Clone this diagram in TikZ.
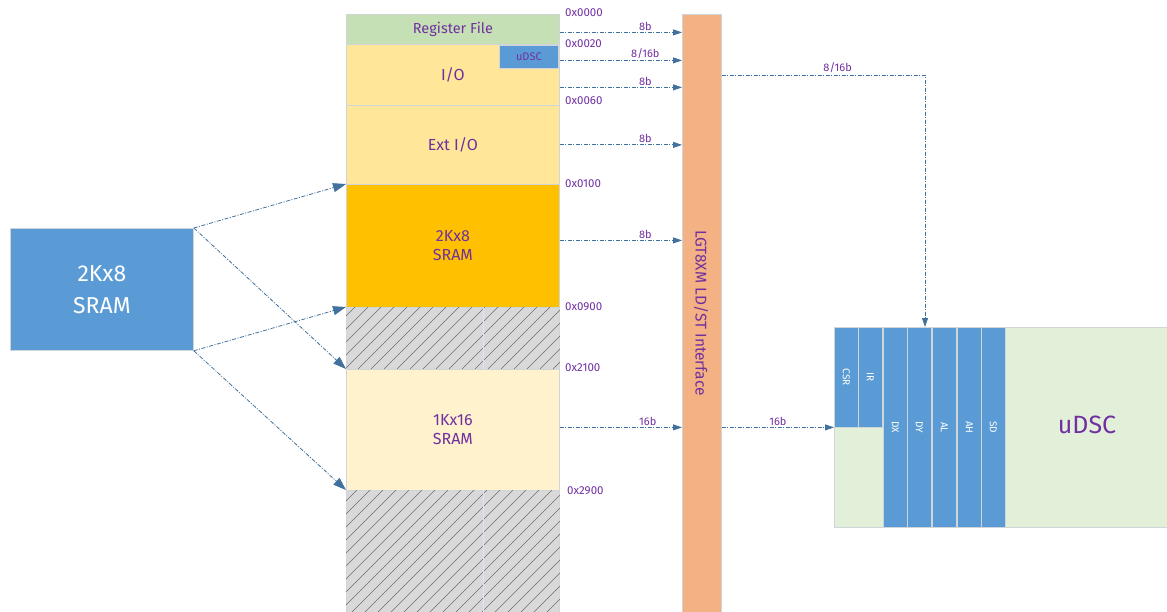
\documentclass[tikz,border=0pt]{standalone}
\usepackage{fontspec}
\setmainfont{Fira Sans}
\usepackage{graphicx}
\usetikzlibrary{arrows.meta}
\definecolor{purp}{HTML}{7030A0}
\definecolor{lnk}{HTML}{41719C}
\definecolor{regc}{HTML}{C5E0B4}
\definecolor{ioc}{HTML}{FFE699}
\definecolor{sramA}{HTML}{FFC000}
\definecolor{sramB}{HTML}{FFF2CC}
\definecolor{hatchc}{HTML}{D9D9D9}
\definecolor{blu}{HTML}{5B9BD5}
\definecolor{barc}{HTML}{F4B183}
\definecolor{udscg}{HTML}{E2F0D9}
\definecolor{edgec}{HTML}{D0D5DA}
\begin{document}
\begin{tikzpicture}[x=1pt,y=-1pt,
 blk/.style={draw=edgec, line width=0.8pt, anchor=north west, inner sep=0pt, text=purp, align=center},
 conn/.style={draw=lnk, line width=0.8pt, dash pattern=on 4pt off 1.5pt on 1pt off 1.5pt, -{Triangle[length=9pt,width=6pt]}},
 connL/.style={conn, -{Triangle[length=13pt,width=9pt]}},
 addr/.style={text=purp, font=\fontsize{11.5}{12}\selectfont, anchor=west, inner sep=0pt},
 bw/.style={text=purp, font=\fontsize{11}{12}\selectfont, above, inner sep=1.5pt},
 regbox/.style={draw=edgec, fill=blu, line width=0.8pt, anchor=north west, minimum width=24pt, inner sep=0pt, text=white, font=\fontsize{10}{11}\selectfont},
 hatchline/.style={draw=gray!85!black, line width=0.45pt}
]
\useasboundingbox (0,0) rectangle (1167,612);

% memory map
\node[blk, fill=regc, minimum width=213pt, minimum height=30pt, font=\fontsize{14.5}{16}\selectfont] (regf) at (346,14) {Register File};
\node[blk, fill=ioc, minimum width=213pt, minimum height=61pt, font=\fontsize{16}{17}\selectfont] (io) at (346,44) {I/O};
\node[blk, fill=blu, minimum width=59pt, minimum height=23pt, font=\fontsize{11}{12}\selectfont] (usm) at (499,45) {uDSC};
\node[blk, fill=ioc, minimum width=213pt, minimum height=79pt, font=\fontsize{16}{17}\selectfont] (ext) at (346,105) {Ext I/O};
\node[blk, fill=sramA, minimum width=213pt, minimum height=123pt, font=\fontsize{16}{19}\selectfont] (k2) at (346,184) {2Kx8\\SRAM};
\node[blk, fill=hatchc, minimum width=213pt, minimum height=62pt] (h1) at (346,307) {};
\node[blk, fill=sramB, minimum width=213pt, minimum height=121pt, font=\fontsize{16}{19}\selectfont] (k1) at (346,369) {1Kx16\\SRAM};
\node[blk, fill=hatchc, minimum width=213pt, minimum height=124pt] (h2) at (346,490) {};

\begin{scope}
\clip (h1.north west) rectangle (h1.south east);
\foreach \i in {280,293,...,560} \draw[hatchline] (\i,369) -- ++(62,-62);
\end{scope}
\begin{scope}
\clip (h2.north west) rectangle (h2.south east);
\foreach \i in {220,233,...,560} \draw[hatchline] (\i,614) -- ++(124,-124);
\end{scope}
\draw[draw=blue!12, line width=1pt] (483,307) -- (483,369);
\draw[draw=blue!12, line width=1pt] (483,490) -- (483,612);

% addresses
\node[addr] (a0) at (565,13) {0x0000};
\node[addr] (a1) at (565,44) {0x0020};
\node[addr] (a2) at (565,101) {0x0060};
\node[addr] (a3) at (565,184) {0x0100};
\node[addr] (a4) at (565,307) {0x0900};
\node[addr] (a5) at (565,368) {0x2100};
\node[addr] (a6) at (567,491) {0x2900};

% interface bar
\node[blk, draw=edgec, fill=barc, minimum width=39pt, minimum height=600pt] (bar) at (682,14) {};
\node[text=purp, font=\fontsize{15.5}{17}\selectfont, rotate=-90] (bartxt) at (701,313) {LGT8XM LD/ST Interface};

% left SRAM
\node[blk, fill=blu, minimum width=183pt, minimum height=122pt, text=white, font=\fontsize{23}{32}\selectfont] (L) at (10,228) {2Kx8\\SRAM};

% uDSC peripheral
\node[blk, fill=udscg, minimum width=340pt, minimum height=200pt] (udsc) at (834,327) {};
\node[text=purp, font=\fontsize{25}{30}\selectfont] (udsctxt) at (1087,425) {uDSC};
\node[regbox, minimum height=100pt] (csr) at (834,327) {\rotatebox{-90}{CSR}};
\node[regbox, minimum height=100pt] (ir) at (858,327) {\rotatebox{-90}{IR}};
\node[regbox, minimum height=200pt] (dx) at (883,327) {\rotatebox{-90}{DX}};
\node[regbox, minimum height=200pt] (dy) at (907,327) {\rotatebox{-90}{DY}};
\node[regbox, minimum height=200pt] (al) at (932,327) {\rotatebox{-90}{AL}};
\node[regbox, minimum height=200pt] (ah) at (957,327) {\rotatebox{-90}{AH}};
\node[regbox, minimum height=200pt] (sd) at (981,327) {\rotatebox{-90}{SD}};

% memory -> interface
\coordinate (p0) at ([yshift=-3pt]regf.east);
\coordinate (p1) at ([yshift=-3.5pt]usm.east);
\coordinate (p2) at ([yshift=-12.5pt]io.east);
\coordinate (p3) at (ext.east);
\coordinate (p4) at ([yshift=5.5pt]k2.east);
\coordinate (p5) at ([yshift=2.5pt]k1.east);
\draw[conn] (p0) -- node[bw, pos=0.7] {8b} (p0 -| bar.west);
\draw[conn] (p1 -| regf.east) -- node[bw, pos=0.7] {8/16b} (p1 -| bar.west);
\draw[conn] (p2) -- node[bw, pos=0.7] {8b} (p2 -| bar.west);
\draw[conn] (p3) -- node[bw, pos=0.7] {8b} (p3 -| bar.west);
\draw[conn] (p4) -- node[bw, pos=0.7] {8b} (p4 -| bar.west);
\draw[conn] (p5) -- node[bw, pos=0.72] {16b} (p5 -| bar.west);

% interface -> uDSC
\coordinate (c1) at (925,75);
\draw[conn] (c1 -| bar.east) -- node[bw, pos=0.57] {8/16b} (c1) -- (c1 |- udsc.north);
\draw[conn] (p5 -| bar.east) -- node[bw, pos=0.5] {16b} (p5 -| udsc.west);

% left SRAM -> memory map
\draw[connL] (L.north east) -- (k2.north west);
\draw[connL] (L.north east) -- (k1.north west);
\draw[connL] (L.south east) -- (h1.north west);
\draw[connL] (L.south east) -- (h2.north west);
\end{tikzpicture}
\end{document}
